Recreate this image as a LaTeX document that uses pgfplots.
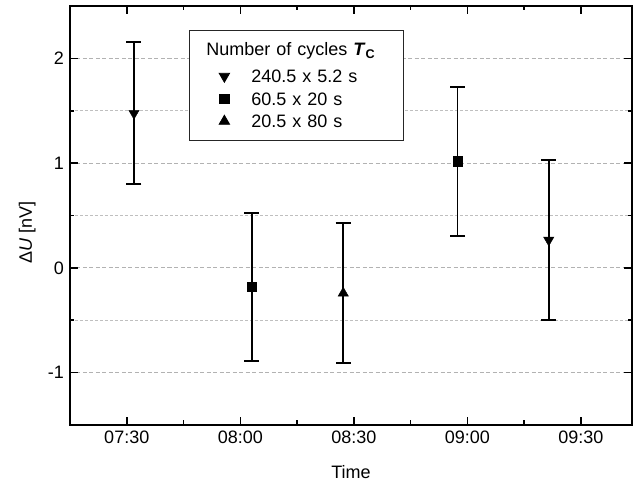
\documentclass[border=0pt]{standalone}
\usepackage{pgfplots}
\pgfplotsset{compat=1.18}
\usepackage{fontspec}
\setmainfont{Liberation Sans}
\usetikzlibrary{calc}
\newcommand{\fs}{\fontsize{18}{21}\selectfont}
\begin{document}
\fs
\begin{tikzpicture}
\begin{axis}[
  name=ax, scale only axis, width=562pt, height=419pt,
  xmin=15, xmax=163.5, ymin=-1.5, ymax=2.5,
  xtick={30,60,90,120,150}, xticklabels={07:30,08:00,08:30,09:00,09:30},
  minor xtick={45,75,105,135},
  ytick={-1,0,1,2}, minor ytick={-0.5,0.5,1.5},
  tick align=inside, major tick length=8pt, minor tick length=4.5pt,
  axis line style={line width=1.6pt},
  every tick/.style={black, line width=1.6pt},
  ymajorgrids, yminorgrids,
  major grid style={black!30, dash pattern=on 4pt off 2.5pt, line width=0.8pt},
  minor grid style={black!25, dash pattern=on 3pt off 2pt, line width=0.6pt},
  /pgf/number format/assume math mode=true,
  ticklabel style={font=\fs},
  label style={font=\fs},
  xlabel={Time}, ylabel={Δ\textit{U} [nV]},
  xlabel style={yshift=-9pt},
  ylabel style={at={(ticklabel cs:0.465)}, xshift=-2pt},
  legend style={at={(0.2117,0.943)}, anchor=north west, draw=black!85, line width=0.8pt,
    font=\fs, row sep=9.5pt, column sep=0pt, inner xsep=0pt, inner ysep=12.5pt,
    nodes={inner xsep=0pt, inner ysep=0pt, text height=13pt, text depth=0pt,
      text width=152pt, align=left}},
  legend cell align=left,
  legend image code/.code={%
    \path[draw=none,fill=none] (0pt,-6.5pt) rectangle (62pt,6.5pt);
    \draw[mark repeat=1,mark phase=1,#1] plot coordinates {(35pt,0pt)};},
]
\addlegendimage{legend image code/.code={\path[draw=none,fill=none] (0pt,-11pt) rectangle (62pt,6.5pt);}}
\addlegendentry{\hspace*{-45pt}Number of cycles \textbf{\textit{T}}\textsubscript{\textbf{C}}}
\addplot[only marks, mark=triangle*, mark size=6pt, mark options={rotate=180, fill=black, draw=black},
  error bars/.cd, y dir=both, y explicit,
  error bar style={line width=1.9pt, black},
  error mark options={rotate=90, mark size=7.5pt, line width=1.9pt, black}]
  table[x=x, y=y, y error=e] {
  x y e
  31.9 1.476 0.676
  141.5 0.266 0.763
};
\addlegendentry{240.5 x 5.2 s}
\addplot[only marks, mark=square*, mark size=4.6pt, mark options={fill=black, draw=black},
  error bars/.cd, y dir=both, y explicit,
  error bar style={line width=1.9pt, black},
  error mark options={rotate=90, mark size=7.5pt, line width=1.9pt, black}]
  table[x=x, y=y, y error=e] {
  x y e
  63.0 -0.183 0.705
  117.4 1.018 0.712
};
\addlegendentry{60.5 x 20 s}
\addplot[only marks, mark=triangle*, mark size=6pt, mark options={fill=black, draw=black},
  error bars/.cd, y dir=both, y explicit,
  error bar style={line width=1.9pt, black},
  error mark options={rotate=90, mark size=7.5pt, line width=1.9pt, black}]
  table[x=x, y=y, y error=e] {
  x y e
  87.2 -0.242 0.669
};
\addlegendentry{20.5 x 80 s}
\end{axis}
\pgfresetboundingbox
\path ($(ax.south west)+(-70pt,-62pt)$) rectangle ($(ax.north east)+(2pt,6pt)$);
\end{tikzpicture}
\end{document}
